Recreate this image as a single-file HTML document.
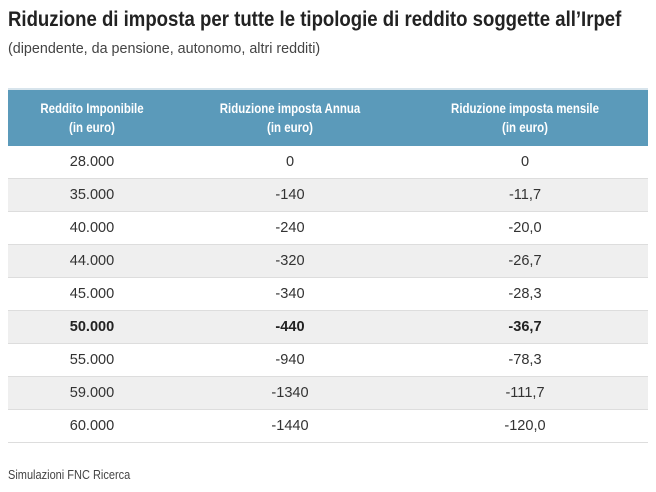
<!DOCTYPE html>
<html><head><meta charset="utf-8"><style>
body{margin:0;width:656px;height:492px;background:#fff;font-family:"Liberation Sans",sans-serif;color:#333;position:relative;overflow:hidden}
.c{position:absolute;white-space:nowrap;transform-origin:0 0}
.t{left:8px;top:8px;font-size:21px;font-weight:bold;color:#222;transform:scaleX(0.885)}
.s{left:8px;top:40px;font-size:15px;color:#444;transform:scaleX(0.955)}
.h{position:absolute;left:8px;top:88px;width:640px;height:58px;background:#5b9aba;border-top:2px solid #d7e4ec;box-sizing:border-box}
.row{position:absolute;left:8px;width:640px;height:33px;border-bottom:1px solid #ddd;box-sizing:border-box}
.g{background:#efefef}
.cell{position:absolute;width:260px;text-align:center;font-size:15px;transform:scaleX(0.97)}
.hc{color:#fff;font-weight:bold;font-size:13.5px;line-height:19px;top:9px;transform:scaleX(0.85)}
.f{left:8px;top:468px;font-size:12.5px;color:#444;transform:scaleX(0.88)}
</style></head><body>
<div class="c t">Riduzione di imposta per tutte le tipologie di reddito soggette all’Irpef</div>
<div class="c s">(dipendente, da pensione, autonomo, altri redditi)</div>
<div class="h">
<div class="cell hc" style="left:-46px">Reddito Imponibile<br>(in euro)</div>
<div class="cell hc" style="left:152px">Riduzione imposta Annua<br>(in euro)</div>
<div class="cell hc" style="left:387px">Riduzione imposta mensile<br>(in euro)</div>
</div>
<div class="row" style="top:146px"><div class="cell" style="left:-46px;top:7px">28.000</div><div class="cell" style="left:152px;top:7px">0</div><div class="cell" style="left:387px;top:7px">0</div></div>
<div class="row g" style="top:179px"><div class="cell" style="left:-46px;top:7px">35.000</div><div class="cell" style="left:152px;top:7px">-140</div><div class="cell" style="left:387px;top:7px">-11,7</div></div>
<div class="row" style="top:212px"><div class="cell" style="left:-46px;top:7px">40.000</div><div class="cell" style="left:152px;top:7px">-240</div><div class="cell" style="left:387px;top:7px">-20,0</div></div>
<div class="row g" style="top:245px"><div class="cell" style="left:-46px;top:7px">44.000</div><div class="cell" style="left:152px;top:7px">-320</div><div class="cell" style="left:387px;top:7px">-26,7</div></div>
<div class="row" style="top:278px"><div class="cell" style="left:-46px;top:7px">45.000</div><div class="cell" style="left:152px;top:7px">-340</div><div class="cell" style="left:387px;top:7px">-28,3</div></div>
<div class="row g" style="top:311px;font-weight:bold;color:#222"><div class="cell" style="left:-46px;top:7px">50.000</div><div class="cell" style="left:152px;top:7px">-440</div><div class="cell" style="left:387px;top:7px">-36,7</div></div>
<div class="row" style="top:344px"><div class="cell" style="left:-46px;top:7px">55.000</div><div class="cell" style="left:152px;top:7px">-940</div><div class="cell" style="left:387px;top:7px">-78,3</div></div>
<div class="row g" style="top:377px"><div class="cell" style="left:-46px;top:7px">59.000</div><div class="cell" style="left:152px;top:7px">-1340</div><div class="cell" style="left:387px;top:7px">-111,7</div></div>
<div class="row" style="top:410px"><div class="cell" style="left:-46px;top:7px">60.000</div><div class="cell" style="left:152px;top:7px">-1440</div><div class="cell" style="left:387px;top:7px">-120,0</div></div>
<div class="c f">Simulazioni FNC Ricerca</div>
</body></html>
